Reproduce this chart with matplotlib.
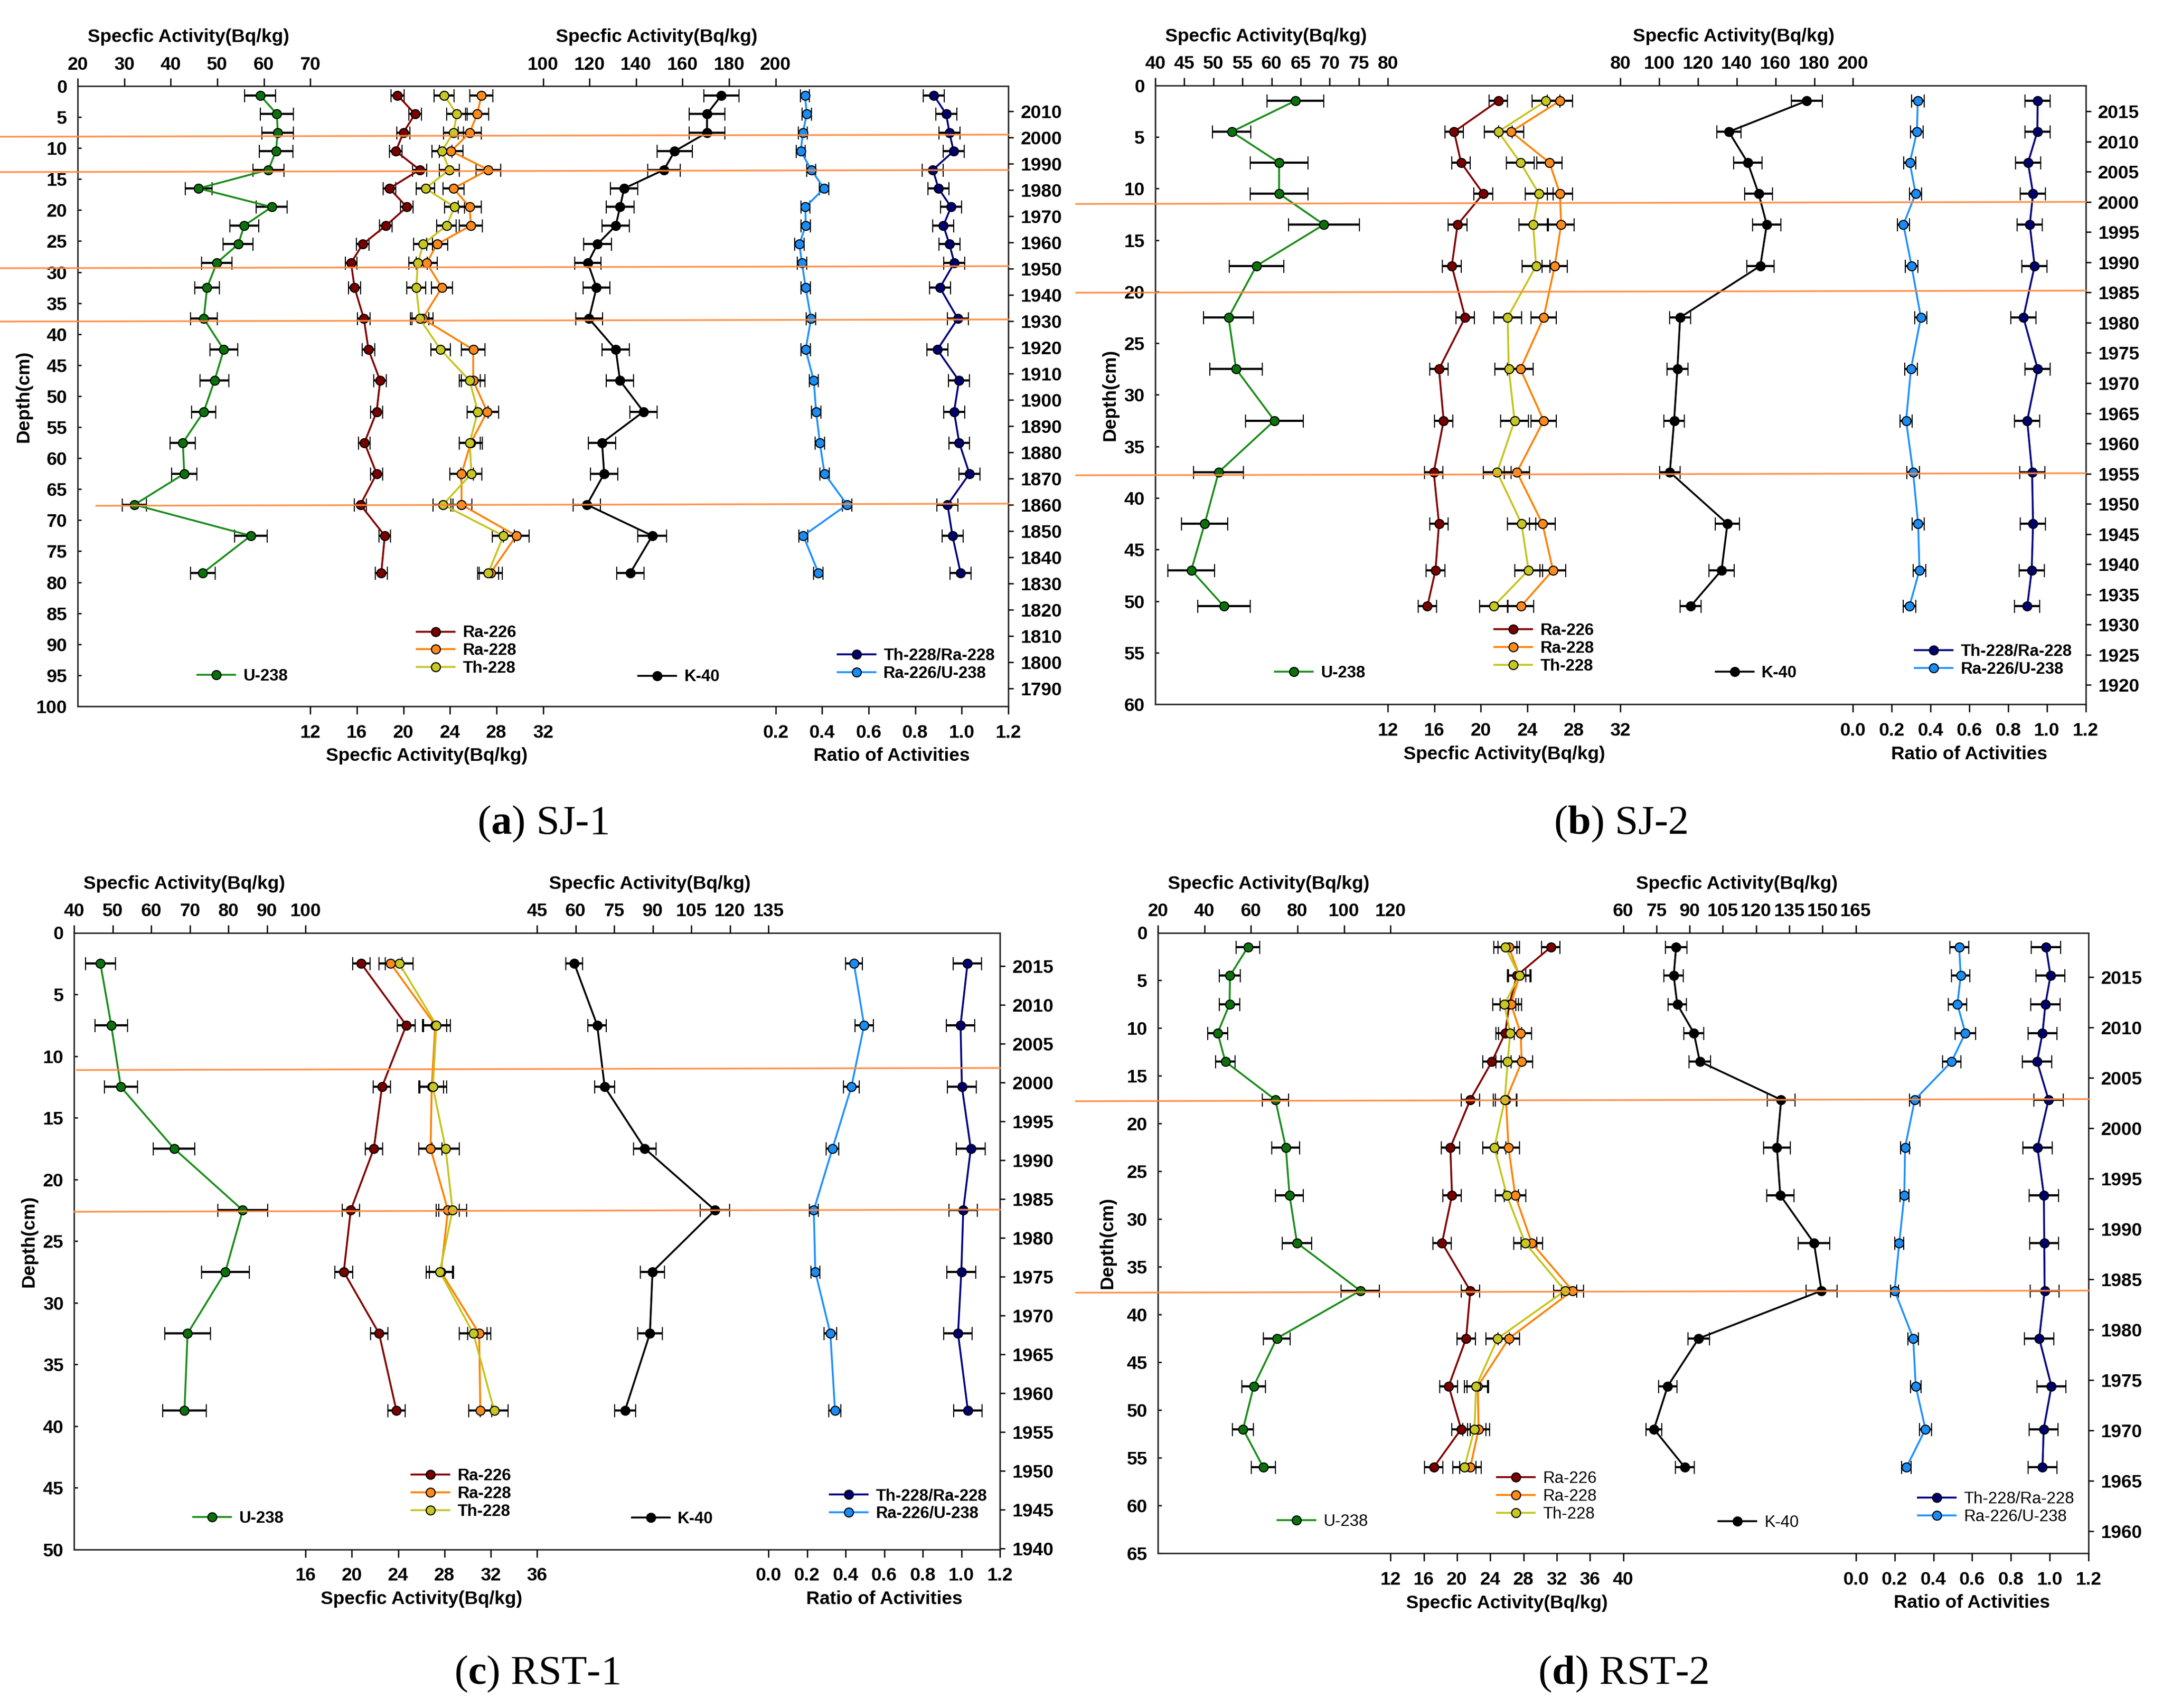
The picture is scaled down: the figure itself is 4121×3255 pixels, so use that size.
import matplotlib
matplotlib.use("Agg")
import matplotlib.pyplot as plt
from matplotlib.lines import Line2D
import matplotlib.transforms as mtransforms

plt.rcParams['font.family'] = ['Liberation Sans', 'DejaVu Sans']
plt.rcParams['font.weight'] = 'bold'
plt.rcParams['mathtext.fontset'] = 'custom'
plt.rcParams['mathtext.rm'] = 'Liberation Serif'
plt.rcParams['mathtext.bf'] = 'Liberation Serif:bold'

# ---------------- DATA ----------------
# (a) SJ-1
a_depth = [1.5, 4.5, 7.5, 10.5, 13.5, 16.5, 19.5, 22.5, 25.5, 28.5, 32.5, 37.5, 42.5, 47.5, 52.5, 57.5, 62.5, 67.5, 72.5, 78.5]
a_u238 = [59.2, 62.8, 63.0, 62.6, 61.0, 46.0, 61.7, 55.8, 54.5, 49.9, 47.8, 47.1, 51.4, 49.4, 47.1, 42.6, 42.9, 32.2, 57.2, 46.9]
a_u238_err = [3.3, 3.6, 3.4, 3.6, 3.3, 2.9, 3.3, 3.1, 3.2, 3.3, 2.7, 2.9, 3.0, 3.1, 2.6, 2.7, 2.7, 2.6, 3.5, 2.7]
a_ra226 = [19.5, 21.0, 20.0, 19.35, 21.4, 18.8, 20.3, 18.5, 16.5, 15.5, 15.8, 16.6, 17.0, 18.0, 17.7, 16.65, 17.7, 16.3, 18.4, 18.1]
a_ra226_err = [0.55, 0.55, 0.55, 0.55, 0.6, 0.55, 0.55, 0.55, 0.55, 0.5, 0.5, 0.55, 0.55, 0.55, 0.5, 0.5, 0.5, 0.5, 0.5, 0.5]
a_ra228 = [26.7, 26.35, 25.7, 24.1, 27.3, 24.3, 25.7, 25.8, 22.9, 22.0, 23.3, 21.65, 26.0, 26.0, 27.2, 25.8, 25.0, 25.0, 29.7, 27.5]
a_ra228_err = [1.0, 1.0, 1.0, 1.0, 1.05, 0.9, 1.0, 1.0, 0.9, 0.9, 0.9, 0.9, 1.0, 1.0, 1.0, 1.0, 1.0, 0.9, 1.1, 1.0]
a_th228 = [23.5, 24.6, 24.3, 23.3, 23.95, 21.9, 24.4, 23.7, 21.7, 21.25, 21.1, 21.4, 23.2, 25.7, 26.4, 25.7, 25.85, 23.4, 28.6, 27.3]
a_th228_err = [0.87, 0.87, 0.87, 0.85, 0.85, 0.8, 0.87, 0.85, 0.8, 0.8, 0.8, 0.8, 0.85, 0.9, 0.9, 0.9, 0.9, 0.85, 0.95, 0.9]
a_k40 = [176.7, 170.5, 170.5, 156.6, 152.0, 134.9, 133.1, 131.3, 123.4, 119.3, 123.0, 119.8, 131.3, 133.1, 143.2, 125.4, 126.3, 118.9, 147.0, 137.5]
a_k40_err = [7.6, 7.6, 7.6, 7.5, 7.0, 5.8, 6.0, 5.9, 6.0, 5.7, 5.7, 5.7, 5.9, 5.9, 5.9, 5.9, 5.9, 5.9, 6.2, 5.9]
a_rau = [0.326, 0.334, 0.317, 0.308, 0.353, 0.408, 0.328, 0.329, 0.302, 0.313, 0.329, 0.352, 0.329, 0.364, 0.374, 0.39, 0.41, 0.507, 0.319, 0.384]
a_rau_err = [0.02] * 20
a_thra = [0.880, 0.933, 0.947, 0.965, 0.876, 0.900, 0.954, 0.921, 0.947, 0.968, 0.906, 0.983, 0.895, 0.988, 0.967, 0.989, 1.033, 0.939, 0.960, 0.995]
a_thra_err = [0.045] * 20
a_markers = [8.0, 13.7, 29.2, 37.8, 67.5]
a_years = list(range(1790, 2011, 10))
a_year_range = (1783.2, 2019.6)
a_u_ticks = [20, 30, 40, 50, 60, 70]
a_ra_ticks = [12, 16, 20, 24, 28, 32]
a_k_ticks = [100, 120, 140, 160, 180, 200]
a_q_ticks = [0.2, 0.4, 0.6, 0.8, 1.0, 1.2]

# (b) SJ-2
b_depth = [1.5, 4.5, 7.5, 10.5, 13.5, 17.5, 22.5, 27.5, 32.5, 37.5, 42.5, 47.0, 50.5]
b_u238 = [64.1, 53.15, 61.3, 61.3, 69.0, 57.4, 52.6, 53.9, 60.5, 50.9, 48.5, 46.2, 51.8]
b_u238_err = [4.9, 3.3, 5.0, 5.0, 6.1, 4.7, 4.3, 4.5, 5.0, 4.3, 4.0, 4.0, 4.5]
b_ra226 = [21.5, 17.7, 18.3, 20.2, 18.0, 17.5, 18.65, 16.4, 16.8, 15.95, 16.4, 16.1, 15.4]
b_ra226_err = [0.8] * 13
b_ra228 = [26.8, 22.6, 25.9, 26.8, 26.9, 26.35, 25.4, 23.4, 25.4, 23.1, 25.3, 26.2, 23.45]
b_ra228_err = [1.1] * 13
b_th228 = [25.6, 21.5, 23.4, 25.0, 24.5, 24.75, 22.3, 22.4, 22.9, 21.4, 23.5, 24.1, 21.1]
b_th228_err = [1.2] * 13
b_k40 = [176.2, 135.9, 145.7, 151.3, 155.5, 152.2, 110.8, 109.4, 107.7, 105.5, 135.2, 132.2, 116.2]
b_k40_err = [8.1, 6.2, 7.3, 7.3, 7.4, 7.1, 5.4, 5.4, 5.3, 5.3, 6.2, 6.4, 5.5]
b_rau = [0.334, 0.330, 0.293, 0.323, 0.260, 0.302, 0.350, 0.299, 0.274, 0.310, 0.336, 0.343, 0.291]
b_rau_err = [0.032] * 13
b_thra = [0.953, 0.951, 0.903, 0.929, 0.912, 0.937, 0.879, 0.953, 0.899, 0.924, 0.929, 0.922, 0.899]
b_thra_err = [0.065] * 13
b_markers = [11.4, 20.0, 37.7]
b_years = list(range(1920, 2016, 5))
b_year_range = (1916.8, 2019.3)
b_u_ticks = [40, 45, 50, 55, 60, 65, 70, 75, 80]
b_ra_ticks = [12, 16, 20, 24, 28, 32]
b_k_ticks = [80, 100, 120, 140, 160, 180, 200]
b_q_ticks = [0.0, 0.2, 0.4, 0.6, 0.8, 1.0, 1.2]

# (c) RST-1
c_depth = [2.5, 7.5, 12.5, 17.5, 22.5, 27.5, 32.5, 38.75]
c_u238 = [46.8, 49.6, 52.1, 65.9, 83.7, 79.2, 69.4, 68.6]
c_u238_err = [3.9, 4.2, 4.3, 5.4, 6.5, 6.2, 5.9, 5.7]
c_ra226 = [20.8, 24.7, 22.6, 21.9, 19.9, 19.3, 22.35, 23.85]
c_ra226_err = [0.75] * 8
c_ra228 = [23.35, 27.2, 26.9, 26.8, 28.3, 27.7, 31.0, 31.1]
c_ra228_err = [1.0] * 8
c_th228 = [24.1, 27.3, 27.0, 28.1, 28.7, 27.6, 30.5, 32.3]
c_th228_err = [1.2] * 8
c_k40 = [59.5, 68.4, 71.3, 86.9, 114.2, 89.9, 88.9, 79.2]
c_k40_err = [3.3, 3.6, 3.8, 4.4, 5.7, 4.7, 4.8, 4.1]
c_rau = [0.443, 0.496, 0.430, 0.332, 0.235, 0.243, 0.321, 0.345]
c_rau_err = [0.044, 0.048, 0.040, 0.033, 0.023, 0.023, 0.032, 0.031]
c_thra = [1.032, 0.996, 1.003, 1.049, 1.010, 1.000, 0.983, 1.034]
c_thra_err = [0.074] * 8
c_markers = [11.05, 22.54]
c_years = list(range(1940, 2016, 5))
c_year_range = (1939.87, 2019.29)
c_u_ticks = [40, 50, 60, 70, 80, 90, 100]
c_ra_ticks = [16, 20, 24, 28, 32, 36]
c_k_ticks = [45, 60, 75, 90, 105, 120, 135]
c_q_ticks = [0.0, 0.2, 0.4, 0.6, 0.8, 1.0, 1.2]

# (d) RST-2
d_depth = [1.5, 4.5, 7.5, 10.5, 13.5, 17.5, 22.5, 27.5, 32.5, 37.5, 42.5, 47.5, 52.0, 56.0]
d_u238 = [58.7, 51.0, 50.8, 45.7, 49.0, 70.5, 75.0, 76.6, 79.8, 107.0, 71.1, 61.2, 56.6, 65.3]
d_u238_err = [5.0, 4.5, 4.3, 4.2, 4.2, 5.6, 6.0, 6.0, 6.3, 8.2, 5.8, 5.0, 4.5, 5.2]
d_ra226 = [31.3, 27.2, 26.3, 25.8, 24.2, 21.6, 19.2, 19.4, 18.2, 21.6, 21.1, 19.0, 20.5, 17.2]
d_ra226_err = [1.1] * 14
d_ra228 = [26.25, 27.5, 26.5, 27.65, 27.8, 25.9, 26.2, 27.0, 29.0, 33.9, 26.25, 22.5, 22.6, 21.6]
d_ra228_err = [1.3] * 14
d_th228 = [25.8, 27.5, 25.7, 26.4, 26.1, 25.75, 24.5, 26.0, 28.2, 33.0, 24.9, 22.3, 22.1, 20.9]
d_th228_err = [1.4] * 14
d_k40 = [83.9, 82.8, 84.4, 91.9, 94.6, 131.3, 129.4, 130.9, 146.1, 149.5, 94.1, 80.1, 73.9, 87.8]
d_k40_err = [4.9, 4.4, 4.2, 4.5, 4.8, 6.3, 6.1, 6.2, 7.1, 7.0, 4.8, 4.1, 3.6, 4.2]
d_rau = [0.533, 0.541, 0.524, 0.565, 0.494, 0.304, 0.254, 0.250, 0.224, 0.200, 0.296, 0.309, 0.359, 0.261]
d_rau_err = [0.049, 0.048, 0.048, 0.054, 0.047, 0.028, 0.024, 0.023, 0.023, 0.021, 0.027, 0.028, 0.031, 0.025]
d_thra = [0.981, 1.004, 0.978, 0.963, 0.935, 0.994, 0.937, 0.970, 0.972, 0.974, 0.946, 1.009, 0.969, 0.963]
d_thra_err = [0.075] * 14
d_markers = [17.54, 37.6]
d_years = list(range(1960, 2016, 5))
d_year_range = (1957.8, 2019.4)
d_u_ticks = [20, 40, 60, 80, 100, 120]
d_ra_ticks = [12, 16, 20, 24, 28, 32, 36, 40]
d_k_ticks = [60, 75, 90, 105, 120, 135, 150, 165]
d_q_ticks = [0.0, 0.2, 0.4, 0.6, 0.8, 1.0, 1.2]

# ---------------- STYLE ----------------
W, H, DPI = 4121, 3255, 300
COL = {
    'u': ('#1a8c1a', '#0b720b'),
    'ra226': ('#800000', '#780000'),
    'ra228': ('#ff8000', '#ff8a1c'),
    'th228': ('#c4c41c', '#c8c822'),
    'k': ('#000000', '#000000'),
    'thra': ('#000080', '#00006e'),
    'rau': ('#1e90ff', '#1a8cf5'),
}
ORANGE = '#ff8a3d'
FS = 8.5
LFS = 7.5
MS = 4.1
LW = 0.85

fig = plt.figure(figsize=(W / DPI, H / DPI), dpi=DPI)


def series(t, x, y, err, key):
    line, face = COL[key]
    t.errorbar(x, y, xerr=err, fmt='-o', color=line, lw=LW, ms=MS,
               mfc=face, mec='black', mew=0.5, ecolor='black',
               elinewidth=1.0, capsize=3.0, capthick=1.0, clip_on=False, zorder=3)


def track(ax, ticks, region, side, dec):
    t = ax.twiny()
    S = ticks[-1] - ticks[0]
    v0 = ticks[0]
    t.set_xlim(v0 - region * S, v0 + (4 - region) * S)
    t.set_xticks(ticks)
    t.set_xticklabels([f'{v:.{dec}f}' for v in ticks])
    if side == 'bottom':
        t.xaxis.tick_bottom()
        t.tick_params(axis='x', direction='out', length=3.6, width=0.6,
                      labelsize=FS, pad=4.5)
    else:
        t.xaxis.tick_top()
        t.tick_params(axis='x', direction='out', length=3.6, width=0.6,
                      labelsize=FS, pad=2.2)
    for sp in t.spines.values():
        sp.set_visible(False)
    return t


def legend(t, keys, labels, xf, yf, weight):
    handles = [Line2D([], [], color=COL[k][0], lw=LW, marker='o', ms=MS,
                      mfc=COL[k][1], mec='black', mew=0.5) for k in keys]
    t.legend(handles, labels, loc='center left', bbox_to_anchor=(xf, yf),
             frameon=False, borderpad=0, borderaxespad=0, handlelength=2.3,
             handletextpad=0.5, labelspacing=0.12,
             prop={'size': LFS, 'weight': weight, 'family': ['Liberation Sans', 'DejaVu Sans']})


def panel(box, dmax, data, ticks, years, yrange, markers, mstarts,
          leg_y, leg_weight, depth_dx, caption, cap_y):
    x0, x1, y0, y1 = box
    ax = fig.add_axes([x0 / W, 1 - y1 / H, (x1 - x0) / W, (y1 - y0) / H])
    ax.set_xlim(0, 1)
    ax.set_ylim(dmax, 0)
    ax.set_xticks([])
    ax.set_yticks(list(range(0, dmax + 1, 5)))
    ax.yaxis.tick_left()
    ax.tick_params(axis='y', direction='in', length=1.6, width=0.6, labelsize=FS, pad=4.8)
    for sp in ax.spines.values():
        sp.set_linewidth(0.7)
        sp.set_color('#303030')

    ay = ax.twinx()
    ay.set_ylim(*yrange)
    ay.set_yticks(years)
    ay.tick_params(axis='y', direction='out', length=2.3, width=0.6, labelsize=FS, pad=3.4)
    for sp in ay.spines.values():
        sp.set_visible(False)

    u_t, ra_t, k_t, q_t = ticks
    tu = track(ax, u_t, 0, 'top', 0)
    tr = track(ax, ra_t, 1, 'bottom', 0)
    tk = track(ax, k_t, 2, 'top', 0)
    tq = track(ax, q_t, 3, 'bottom', 1)

    depth = data['depth']
    series(tu, data['u'], depth, data['u_err'], 'u')
    series(tr, data['ra226'], depth, data['ra226_err'], 'ra226')
    series(tr, data['ra228'], depth, data['ra228_err'], 'ra228')
    series(tr, data['th228'], depth, data['th228_err'], 'th228')
    series(tk, data['k'], depth, data['k_err'], 'k')
    series(tq, data['thra'], depth, data['thra_err'], 'thra')
    series(tq, data['rau'], depth, data['rau_err'], 'rau')

    legend(tu, ['u'], ['U-238'], 0.1286, leg_y[0], leg_weight)
    legend(tr, ['ra226', 'ra228', 'th228'], ['Ra-226', 'Ra-228', 'Th-228'], 0.3644, leg_y[1], leg_weight)
    legend(tk, ['k'], ['K-40'], 0.6024, leg_y[2], leg_weight)
    legend(tq, ['thra', 'rau'], ['Th-228/Ra-228', 'Ra-226/U-238'], 0.8165, leg_y[3], leg_weight)

    # marker horizons
    ppc = (y1 - y0) / dmax
    btr = mtransforms.blended_transform_factory(tq.transAxes, tq.transData)
    for d, xs in zip(markers, mstarts):
        tq.plot([xs, 1.0], [d + 2.0 / ppc, d - 2.0 / ppc], transform=btr,
                color=ORANGE, lw=0.8, alpha=0.9, clip_on=False, zorder=6)

    # axis titles
    top = mtransforms.offset_copy(ax.transAxes, fig=fig, x=0, y=93, units='dots')
    bot = mtransforms.offset_copy(ax.transAxes, fig=fig, x=0, y=-95, units='dots')
    ax.text(0.119, 1, 'Specfic Activity(Bq/kg)', transform=top, ha='center', va='center', fontsize=FS)
    ax.text(0.622, 1, 'Specfic Activity(Bq/kg)', transform=top, ha='center', va='center', fontsize=FS)
    ax.text(0.375, 0, 'Specfic Activity(Bq/kg)', transform=bot, ha='center', va='center', fontsize=FS)
    ax.text(0.875, 0, 'Ratio of Activities', transform=bot, ha='center', va='center', fontsize=FS)
    lft = mtransforms.offset_copy(ax.transAxes, fig=fig, x=-depth_dx, y=0, units='dots')
    ax.text(0, 0.5, 'Depth(cm)', transform=lft, rotation=90, ha='center', va='center', fontsize=FS)

    fig.text((x0 + x1) / 2 / W, 1 - cap_y / H, caption, ha='center', va='center',
             fontsize=19, family='Liberation Serif', fontweight='normal')


panel((148, 1921, 164, 1346), 100,
      dict(depth=a_depth, u=a_u238, u_err=a_u238_err, ra226=a_ra226, ra226_err=a_ra226_err,
           ra228=a_ra228, ra228_err=a_ra228_err, th228=a_th228, th228_err=a_th228_err,
           k=a_k40, k_err=a_k40_err, rau=a_rau, rau_err=a_rau_err, thra=a_thra, thra_err=a_thra_err),
      (a_u_ticks, a_ra_ticks, a_k_ticks, a_q_ticks), a_years, a_year_range,
      a_markers, [-0.083, -0.083, -0.083, -0.083, 0.02],
      (0.048, 0.0895, 0.047, 0.067), 'bold', 103, r'($\mathbf{a}$) SJ-1', 1570)

panel((2201, 3973.5, 162.6, 1342.2), 60,
      dict(depth=b_depth, u=b_u238, u_err=b_u238_err, ra226=b_ra226, ra226_err=b_ra226_err,
           ra228=b_ra228, ra228_err=b_ra228_err, th228=b_th228, th228_err=b_th228_err,
           k=b_k40, k_err=b_k40_err, rau=b_rau, rau_err=b_rau_err, thra=b_thra, thra_err=b_thra_err),
      (b_u_ticks, b_ra_ticks, b_k_ticks, b_q_ticks), b_years, b_year_range,
      b_markers, [-0.085, -0.085, -0.085],
      (0.05, 0.09, 0.05, 0.0708), 'bold', 86, r'($\mathbf{b}$) SJ-2', 1570)

panel((141.3, 1905, 1777.5, 2952.6), 50,
      dict(depth=c_depth, u=c_u238, u_err=c_u238_err, ra226=c_ra226, ra226_err=c_ra226_err,
           ra228=c_ra228, ra228_err=c_ra228_err, th228=c_th228, th228_err=c_th228_err,
           k=c_k40, k_err=c_k40_err, rau=c_rau, rau_err=c_rau_err, thra=c_thra, thra_err=c_thra_err),
      (c_u_ticks, c_ra_ticks, c_k_ticks, c_q_ticks), c_years, c_year_range,
      c_markers, [0.003, 0.0],
      (0.05, 0.09, 0.049, 0.072), 'bold', 86, r'($\mathbf{c}$) RST-1', 3190)

panel((2206, 3979, 1777.5, 2960), 65,
      dict(depth=d_depth, u=d_u238, u_err=d_u238_err, ra226=d_ra226, ra226_err=d_ra226_err,
           ra228=d_ra228, ra228_err=d_ra228_err, th228=d_th228, th228_err=d_th228_err,
           k=d_k40, k_err=d_k40_err, rau=d_rau, rau_err=d_rau_err, thra=d_thra, thra_err=d_thra_err),
      (d_u_ticks, d_ra_ticks, d_k_ticks, d_q_ticks), d_years, d_year_range,
      d_markers, [-0.088, -0.088],
      (0.0508, 0.0915, 0.049, 0.073), 'normal', 96, r'($\mathbf{d}$) RST-2', 3190)

fig.savefig('out.png', dpi=DPI)
